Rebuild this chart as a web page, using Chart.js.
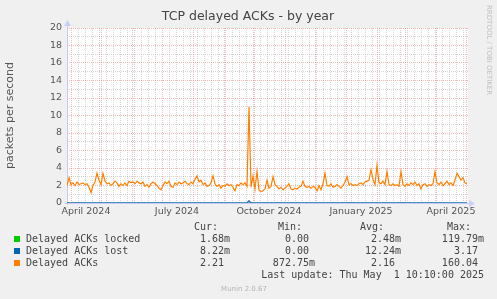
<!DOCTYPE html>
<html>
<head>
<meta charset="utf-8">
<script src="https://cdn.jsdelivr.net/npm/chart.js@4.4.1/dist/chart.umd.min.js"></script>
<style>
  html, body { margin: 0; padding: 0; background: #f0f0f0; }
  canvas { display: block; }
</style>
</head>
<body>
<canvas id="chart" width="497" height="299"></canvas>
<script>
// x = days since 2024-03-28 (left edge of the plot), one sample every 2 days
const ackStep = 2;
const delayedAcks = [
  2.0, 2.9, 2.1, 2.3, 2.0, 2.4, 2.1, 2.2, 2.3, 2.1,
  2.2, 1.8, 1.2, 2.0, 2.4, 3.4, 2.6, 2.1, 3.4, 2.5,
  2.2, 2.3, 2.0, 2.2, 2.5, 2.3, 1.9, 2.2, 2.0, 2.3,
  2.0, 2.5, 2.3, 2.4, 2.2, 2.5, 2.3, 2.2, 2.4, 1.9,
  2.1, 1.8, 2.2, 2.4, 2.2, 2.0, 1.7, 1.5, 2.0, 2.4,
  2.2, 2.5, 1.9, 1.8, 2.3, 2.1, 2.4, 2.2, 2.3, 2.5,
  2.2, 2.1, 2.4, 2.2, 2.7, 3.1, 2.4, 2.6, 2.1, 2.3,
  1.9, 2.0, 2.3, 3.1, 2.2, 1.9, 2.1, 1.7, 2.0, 1.9,
  2.2, 2.0, 2.1, 1.8, 1.4, 2.1, 2.0, 2.3, 2.1, 2.3,
  1.9, 11.0, 1.8, 3.1, 1.6, 3.6, 1.5, 1.3, 1.4, 1.6,
  2.6, 1.7, 1.9, 3.0, 2.1, 1.9, 1.6, 1.8, 1.5, 1.7,
  1.9, 2.2, 1.6, 1.5, 1.7, 1.6, 1.8, 1.9, 2.5, 1.9,
  1.8, 1.9, 1.7, 1.9, 1.8, 1.4, 2.0, 1.5, 2.2, 3.4,
  2.0, 1.9, 2.2, 1.8, 1.9, 2.1, 1.9, 1.7, 2.0, 2.4,
  3.0, 2.1, 2.2, 2.0, 2.1, 2.0, 2.2, 2.3, 2.1, 2.4,
  2.5, 2.6, 3.8, 2.7, 2.1, 4.3, 2.3, 2.2, 2.5, 2.1,
  3.6, 2.1, 2.0, 2.2, 2.0, 2.1, 1.9, 3.6, 2.1, 1.9,
  2.2, 2.0, 2.3, 2.1, 2.4, 2.0, 2.2, 1.6, 2.1, 2.2,
  1.9, 2.1, 2.0, 2.2, 3.6, 2.3, 2.1, 2.4, 2.0, 2.2,
  2.5, 2.1, 2.3, 2.0, 2.6, 3.4, 3.0, 2.6, 2.9, 2.3,
  2.2
];
const lostDays = [0, 180, 182, 184, 400];
const lostValues = [0, 0, 0.25, 0, 0];
const lockedDays = [0, 400];
const lockedValues = [0, 0];

// month starts (red grid), label positions (mid month) and their text
const monthDays = [4, 34, 65, 95, 126, 157, 187, 218, 248, 279, 310, 338, 369, 399];
const labelDays = [19, 110, 202, 294, 384];
const labelNames = ['April 2024', 'July 2024', 'October 2024', 'January 2025', 'April 2025'];
const firstMonday = 4;

const legendRows = [
  { name: 'Delayed ACKs locked', color: '#00CC00', cur: '1.68m', min: '0.00 ', avg: '2.48m', max: '119.79m' },
  { name: 'Delayed ACKs lost', color: '#0066B3', cur: '8.22m', min: '0.00 ', avg: '12.24m', max: '3.17 ' },
  { name: 'Delayed ACKs', color: '#FF8000', cur: '2.21 ', min: '872.75m', avg: '2.16 ', max: '160.04 ' }
];
const lastUpdate = 'Last update: Thu May  1 10:10:00 2025';

const MAJOR = 'rgba(230, 100, 100, 0.45)';
const MINOR = 'rgba(150, 150, 150, 0.4)';
const AXIS = '#c4ccf2';

// x tick list: weeks (grey), months (red), labels (no line)
const tickKind = new Map();
for (let d = firstMonday; d <= 401; d += 7) tickKind.set(d, 'week');
monthDays.forEach(d => tickKind.set(d, 'month'));
const labelAt = new Map();
labelDays.forEach((d, i) => { labelAt.set(d, labelNames[i]); if (!tickKind.has(d)) tickKind.set(d, 'label'); });
const xTickList = [...tickKind.keys()].sort((a, b) => a - b);

const rrdPlugin = {
    id: 'rrd',
    beforeDraw(chart) {
        const { ctx, chartArea: a } = chart;
        ctx.save();
        ctx.fillStyle = '#f0f0f0';
        ctx.fillRect(0, 0, chart.width, chart.height);
        ctx.fillStyle = '#ffffff';
        ctx.fillRect(a.left, a.top, a.right - a.left, a.bottom - a.top);
        ctx.restore();
    },
    beforeDatasetsDraw(chart) {
        const { ctx, chartArea: a } = chart;
        ctx.save();
        ctx.strokeStyle = AXIS;
        ctx.lineWidth = 1;
        ctx.beginPath();
        ctx.moveTo(a.left + 0.5, a.bottom + 2);
        ctx.lineTo(a.left + 0.5, a.top - 4);
        ctx.moveTo(a.left - 2, a.bottom + 0.5);
        ctx.lineTo(a.right + 4, a.bottom + 0.5);
        ctx.stroke();
        ctx.fillStyle = '#c8d0f6';
        ctx.beginPath();
        ctx.moveTo(a.left - 3, a.top - 2);
        ctx.lineTo(a.left + 4, a.top - 2);
        ctx.lineTo(a.left + 0.5, a.top - 8);
        ctx.closePath();
        ctx.fill();
        ctx.beginPath();
        ctx.moveTo(a.right + 1, a.bottom - 3);
        ctx.lineTo(a.right + 1, a.bottom + 4);
        ctx.lineTo(a.right + 7, a.bottom + 0.5);
        ctx.closePath();
        ctx.fill();
        ctx.restore();
    },
    afterDraw(chart) {
        const { ctx, chartArea: a } = chart;
        ctx.save();
        // title
        ctx.fillStyle = '#444';
        ctx.font = '12.5px "DejaVu Sans"';
        ctx.textAlign = 'center';
        ctx.textBaseline = 'middle';
        ctx.fillText('TCP delayed ACKs - by year', 248, 17);
        // vertical axis title
        ctx.save();
        ctx.translate(10, (a.top + a.bottom) / 2);
        ctx.rotate(-Math.PI / 2);
        ctx.font = '11px "DejaVu Sans"';
        ctx.fillStyle = '#555';
        ctx.fillText('packets per second', 0, 0);
        ctx.restore();
        // watermark
        ctx.save();
        ctx.translate(489, 5);
        ctx.rotate(Math.PI / 2);
        ctx.font = '7px "DejaVu Sans"';
        ctx.fillStyle = '#c0c0c0';
        ctx.textAlign = 'left';
        ctx.fillText('RRDTOOL / TOBI OETIKER', 0, 0);
        ctx.restore();
        // legend
        ctx.font = '10px "DejaVu Sans Mono"';
        const cw = ctx.measureText('0').width;
        ctx.textAlign = 'left';
        ctx.fillStyle = '#444';
        const right = (s, x, y) => ctx.fillText(s, x - s.length * cw, y);
        ctx.fillText('Cur:', 194, 227);
        ctx.fillText('Min:', 278, 227);
        ctx.fillText('Avg:', 360, 227);
        ctx.fillText('Max:', 447, 227);
        legendRows.forEach((r, i) => {
            const y = 239 + i * 12;
            ctx.fillStyle = r.color;
            ctx.fillRect(14, y - 3, 6, 6);
            ctx.fillStyle = '#444';
            ctx.fillText(r.name, 26, y);
            right(r.cur, 230, y);
            right(r.min, 315, y);
            right(r.avg, 401, y);
            right(r.max, 484, y);
        });
        right(lastUpdate, 484, 275);
        ctx.font = '7px "DejaVu Sans"';
        ctx.fillStyle = '#b4b4b4';
        ctx.textAlign = 'center';
        ctx.fillText('Munin 2.0.67', 244, 289);
        ctx.restore();
    }
};

const tickFont = { family: 'DejaVu Sans', size: 9.5 };

new Chart(document.getElementById('chart'), {
    type: 'line',
    data: {
        datasets: [
            {
                label: 'Delayed ACKs',
                data: delayedAcks.map((v, i) => ({ x: i * ackStep, y: v })),
                borderColor: '#FF8000',
                borderWidth: 1.2,
                pointRadius: 0,
                tension: 0,
                order: 1
            },
            {
                label: 'Delayed ACKs lost',
                data: lostDays.map((d, i) => ({ x: d, y: lostValues[i] })),
                borderColor: '#2f6fc0',
                borderWidth: 1.6,
                pointRadius: 0,
                order: 2
            },
            {
                label: 'Delayed ACKs locked',
                data: lockedDays.map((d, i) => ({ x: d, y: lockedValues[i] })),
                borderColor: '#00CC00',
                borderWidth: 0.6,
                pointRadius: 0,
                order: 3
            }
        ]
    },
    options: {
        responsive: false,
        animation: false,
        devicePixelRatio: 1,
        layout: { padding: { top: 28, right: 29, bottom: 80, left: 0 } },
        plugins: { legend: { display: false }, title: { display: false }, tooltip: { enabled: false } },
        scales: {
            x: {
                type: 'linear',
                min: 0,
                max: 401,
                afterBuildTicks: s => { s.ticks = xTickList.map(v => ({ value: v })); },
                afterFit: s => { s.height = 16; },
                ticks: {
                    autoSkip: false,
                    maxRotation: 0,
                    padding: 3,
                    color: '#555',
                    font: tickFont,
                    callback: v => labelAt.get(v) || ''
                },
                grid: {
                    drawTicks: false,
                    color: c => {
                        const k = c.tick ? tickKind.get(c.tick.value) : null;
                        return k === 'month' ? MAJOR : k === 'week' ? MINOR : 'rgba(0,0,0,0)';
                    }
                },
                border: { display: false, dash: [1, 1] }
            },
            y: {
                min: 0,
                max: 20,
                afterFit: s => { s.width = 67; },
                ticks: {
                    stepSize: 1,
                    autoSkip: false,
                    padding: 5,
                    color: '#555',
                    font: tickFont,
                    callback: v => (v % 2 === 0 ? v : '')
                },
                grid: {
                    drawTicks: false,
                    color: c => (c.tick && c.tick.value % 2 === 0 ? MAJOR : MINOR)
                },
                border: { display: false, dash: [1, 1] }
            }
        }
    },
    plugins: [rrdPlugin]
});
</script>
</body>
</html>
